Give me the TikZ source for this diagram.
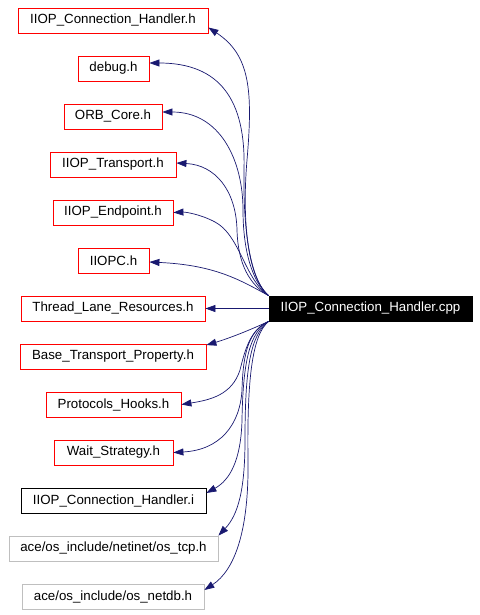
\documentclass[tikz,border=0pt]{standalone}
\usepackage{fontspec}
\setmainfont{Liberation Sans}
\usetikzlibrary{arrows.meta}
\definecolor{edgeblue}{RGB}{25,25,112}
\definecolor{boxred}{RGB}{255,0,0}
\definecolor{boxgray}{RGB}{191,191,191}
\tikzset{
  filebox/.style={draw=boxred, line width=0.8pt, minimum height=25pt, inner sep=0pt, fill=white,
    font=\fontsize{13.3}{15}\selectfont, text=black},
  blackbox/.style={filebox, draw=black},
  graybox/.style={filebox, draw=boxgray},
  mainbox/.style={draw=black, fill=black, text=white, line width=0.8pt, minimum height=25pt, inner sep=0pt,
    font=\fontsize{13.3}{15}\selectfont},
  dep/.style={draw=edgeblue, line width=0.7pt, -{Triangle[length=10pt,width=7pt]}, fill=none}
}
\begin{document}
\begin{tikzpicture}[x=1pt,y=-1pt]
\useasboundingbox (0,0) rectangle (479,615);
\node[filebox, minimum width=190pt] (n1) at (113,20.5) {IIOP\_Connection\_Handler.h};
\node[filebox, minimum width=71pt] (n2) at (113.5,68.5) {debug.h};
\node[filebox, minimum width=98pt] (n3) at (113,116.5) {ORB\_Core.h};
\node[filebox, minimum width=126pt] (n4) at (113,164.5) {IIOP\_Transport.h};
\node[filebox, minimum width=120pt] (n5) at (113,212.5) {IIOP\_Endpoint.h};
\node[filebox, minimum width=71pt] (n6) at (113.5,260.5) {IIOPC.h};
\node[filebox, minimum width=184pt] (n7) at (113,308.5) {Thread\_Lane\_Resources.h};
\node[filebox, minimum width=186pt] (n8) at (113,356.5) {Base\_Transport\_Property.h};
\node[filebox, minimum width=135pt] (n9) at (113.5,404.5) {Protocols\_Hooks.h};
\node[filebox, minimum width=119pt] (n10) at (113.5,452.5) {Wait\_Strategy.h};
\node[blackbox, minimum width=185pt] (n11) at (113.5,500.5) {IIOP\_Connection\_Handler.i};
\node[graybox, minimum width=209pt] (n12) at (113.5,548.5) {ace/os\_include/netinet/os\_tcp.h};
\node[graybox, minimum width=182pt] (n13) at (113,596.5) {ace/os\_include/os\_netdb.h};
\node[mainbox, minimum width=203pt] (main) at (370.5,308.5) {IIOP\_Connection\_Handler.cpp};

\draw[dep] (main.north west) .. controls (245,275) and (242.7,210) .. (247,160)
  .. controls (253,90) and (250,55) .. ([yshift=-7pt]n1.east);
\draw[dep] (main.north west) .. controls (250,280) and (243,230) .. (244,170)
  .. controls (246,100) and (220,63) .. ([yshift=5.5pt]n2.east);
\draw[dep] (main.north west) .. controls (252,282) and (243,250) .. (243,210)
  .. controls (243,160) and (220,112) .. ([yshift=4.5pt]n3.east);
\draw[dep] (main.north west) .. controls (250,285) and (238,265) .. (237,230)
  .. controls (236,190) and (215,165) .. ([yshift=1.5pt]n4.east);
\draw[dep] (main.north west) .. controls (245,280) and (240,235) .. (215,222)
  .. controls (200,214) and (185,212) .. (n5.east);
\draw[dep] (main.north west) .. controls (240,280) and (215,265) .. ([yshift=-1.5pt]n6.east);
\draw[dep] (main.west) -- (n7.east);
\draw[dep] (main.south west) .. controls (250,330) and (230,338) .. ([yshift=-1.5pt]n8.north east);
\draw[dep] (main.south west) .. controls (250,330) and (245,350) .. (240,370)
  .. controls (232,395) and (210,400) .. (n9.east);
\draw[dep] (main.south west) .. controls (250,330) and (243,350) .. (242,390)
  .. controls (240,425) and (220,450) .. (n10.east);
\draw[dep] (main.south west) .. controls (250,332) and (243,360) .. (242,420)
  .. controls (241,460) and (230,480) .. ([yshift=7.5pt]n11.east);
\draw[dep] (main.south west) .. controls (250,335) and (245,370) .. (245,440)
  .. controls (245,490) and (238,515) .. (n12.north east);
\draw[dep] (main.south west) .. controls (252,335) and (247,380) .. (248,460)
  .. controls (249,530) and (235,570) .. ([yshift=6.5pt]n13.east);
\end{tikzpicture}
\end{document}
